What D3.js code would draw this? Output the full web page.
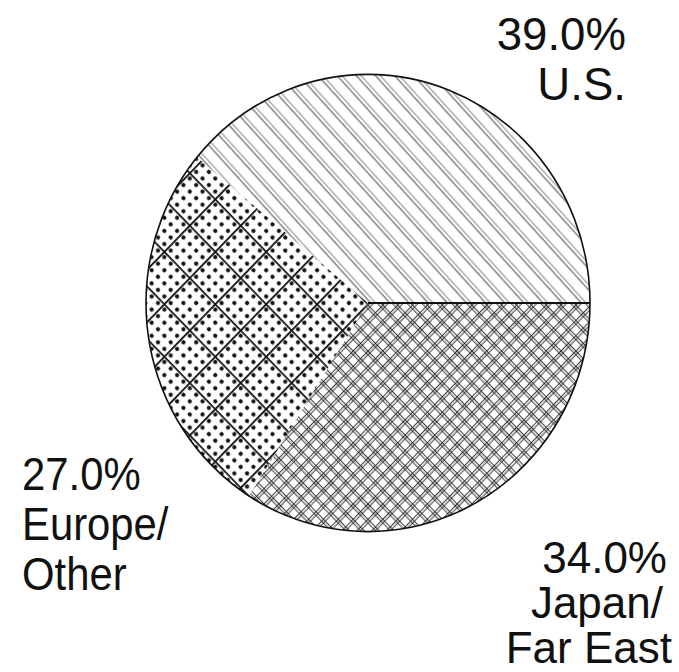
<!DOCTYPE html>
<html>
<head>
<meta charset="utf-8">
<script src="https://cdn.jsdelivr.net/npm/d3@7"></script>
<style>
  html, body { margin: 0; padding: 0; background: #fff; }
  svg { display: block; }
  text { font-family: "Liberation Sans", Arial, sans-serif; fill: #111; }
</style>
</head>
<body>
<svg id="chart" width="679" height="672"></svg>
<script>
// data
var regions = ["U.S.", "Japan/Far East", "Europe/Other"];
var shares = [39.0, 34.0, 27.0];
var labelLines = [["U.S."], ["Japan/", "Far East"], ["Europe/", "Other"]];

// layout (not data)
var cx = 368, cy = 303, radius = 222, ySquash = 1.03;
var labelLayout = [
  { x: 626, y: 50, anchor: "end", sx: 0.97, step: 50, size: 47, dx: [0, 0] },
  { x: 667, y: 573, anchor: "end", sx: 1.0, step: 45, size: 44, dx: [0, -4, 5] },
  { x: 22, y: 490, anchor: "start", sx: 0.89, step: 50, size: 47, dx: [0, 0, 0] }
];

var svg = d3.select("#chart");
var defs = svg.append("defs");

// U.S. : single diagonal hatch, doubled thin lines
var pUS = defs.append("pattern")
  .attr("id", "patUS")
  .attr("patternUnits", "userSpaceOnUse")
  .attr("width", 14).attr("height", 14)
  .attr("patternTransform", "rotate(-43)");
pUS.append("line").attr("x1", 2).attr("x2", 2).attr("y1", 0).attr("y2", 14)
  .attr("stroke", "#333").attr("stroke-width", 0.9);
pUS.append("line").attr("x1", 5.5).attr("x2", 5.5).attr("y1", 0).attr("y2", 14)
  .attr("stroke", "#666").attr("stroke-width", 0.8);

// Japan : double-line crosshatch
var pJP = defs.append("pattern")
  .attr("id", "patJP")
  .attr("patternUnits", "userSpaceOnUse")
  .attr("width", 10.5).attr("height", 10.5)
  .attr("patternTransform", "rotate(45)");
[1.5, 4].forEach(function(o) {
  pJP.append("line").attr("x1", o).attr("x2", o).attr("y1", 0).attr("y2", 10.5)
    .attr("stroke", "#222").attr("stroke-width", 0.9);
  pJP.append("line").attr("y1", o).attr("y2", o).attr("x1", 0).attr("x2", 10.5)
    .attr("stroke", "#222").attr("stroke-width", 0.9);
});

// Europe : dots with a coarse heavy grid
var pEU = defs.append("pattern")
  .attr("id", "patEU")
  .attr("patternUnits", "userSpaceOnUse")
  .attr("width", 36).attr("height", 36)
  .attr("patternTransform", "rotate(45)");
for (var i = 0; i < 4; i++) {
  for (var j = 0; j < 4; j++) {
    pEU.append("circle").attr("cx", 4.5 + i * 9).attr("cy", 4.5 + j * 9)
      .attr("r", 2.1).attr("fill", "#111");
  }
}
pEU.append("line").attr("x1", 0.9).attr("x2", 0.9).attr("y1", 0).attr("y2", 36)
  .attr("stroke", "#111").attr("stroke-width", 1.8);
pEU.append("line").attr("y1", 0.9).attr("y2", 0.9).attr("x1", 0).attr("x2", 36)
  .attr("stroke", "#111").attr("stroke-width", 1.8);

var fills = ["url(#patUS)", "url(#patJP)", "url(#patEU)"];

var total = d3.sum(shares);
var start = Math.PI / 2 - shares[0] / total * 2 * Math.PI;

var pie = d3.pie().sort(null).value(function(d) { return d; })
  .startAngle(start).endAngle(start + 2 * Math.PI);
var arc = d3.arc().innerRadius(0).outerRadius(radius);
var arcs = pie(shares);

var g = svg.append("g")
  .attr("transform", "translate(" + cx + "," + cy + ") scale(1," + ySquash + ")");

g.selectAll("path.slice")
  .data(arcs)
  .enter().append("path")
  .attr("class", "slice")
  .attr("d", arc)
  .attr("fill", function(d, i) { return fills[i]; })
  .attr("stroke", "none");

// outline and the U.S./Japan divider
g.append("circle").attr("r", radius)
  .attr("fill", "none").attr("stroke", "#111").attr("stroke-width", 1.6);
var a = arcs[1].startAngle;
g.append("line")
  .attr("x1", 0).attr("y1", 0)
  .attr("x2", radius * Math.sin(a)).attr("y2", -radius * Math.cos(a))
  .attr("stroke", "#111").attr("stroke-width", 1.8);

// labels
arcs.forEach(function(d, i) {
  var L = labelLayout[i];
  var lines = [d3.format(".1f")(shares[i]) + "%"].concat(labelLines[i]);
  var tg = svg.append("g")
    .attr("transform", "translate(" + L.x + "," + L.y + ") scale(" + L.sx + ",1)");
  lines.forEach(function(t, k) {
    tg.append("text")
      .attr("x", (L.dx[k] || 0) / L.sx)
      .attr("y", k * L.step)
      .attr("text-anchor", L.anchor)
      .attr("font-size", L.size)
      .text(t);
  });
});
</script>
</body>
</html>
